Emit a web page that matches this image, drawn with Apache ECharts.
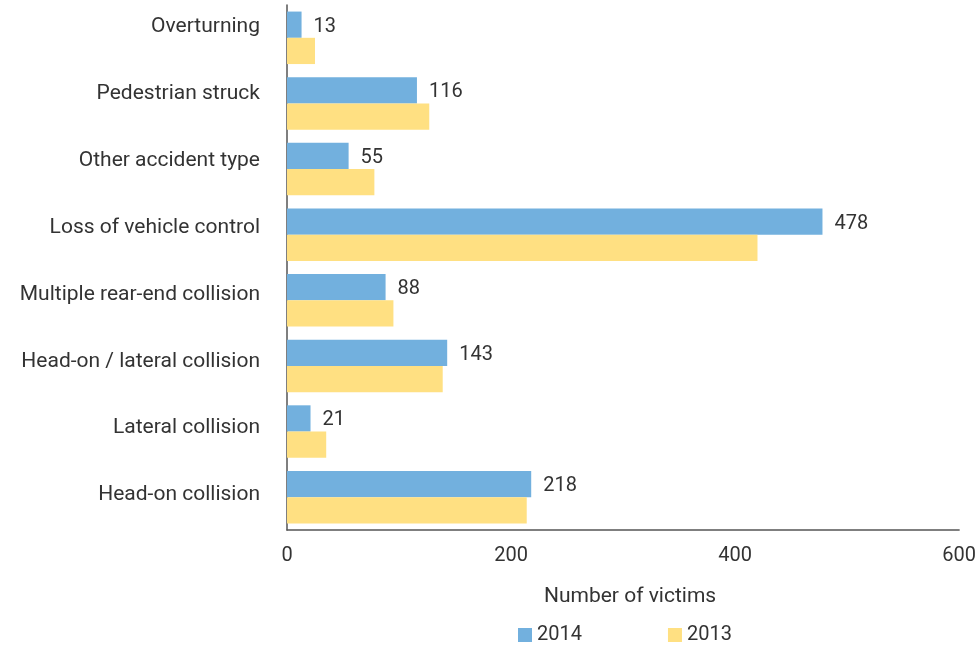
<!DOCTYPE html>
<html>
<head>
<meta charset="utf-8">
<style>
  html, body { margin: 0; padding: 0; background: #ffffff; }
  #chart { width: 979px; height: 648px; }
</style>
<script src="https://cdn.jsdelivr.net/npm/echarts@6/dist/echarts.min.js"></script>
</head>
<body>
<div id="chart"></div>
<script>
// Accident types, listed top to bottom
const categories = [
  'Overturning',
  'Pedestrian struck',
  'Other accident type',
  'Loss of vehicle control',
  'Multiple rear-end collision',
  'Head-on / lateral collision',
  'Lateral collision',
  'Head-on collision'
];

// Number of victims per accident type
const victims2014 = [13, 116, 55, 478, 88, 143, 21, 218];
const victims2013 = [25, 127, 78, 420, 95, 139, 35, 214];

// Value axis ticks
const xTicks = [0, 200, 400, 600];

const FONT = 'Roboto';
const TEXT = '#333333';
const AXIS = '#555555';
const WORD_SIZE = 21;
const NUM_SIZE = 20;

const chart = echarts.init(document.getElementById('chart'), null, { renderer: 'canvas' });

chart.setOption({
  animation: false,
  textStyle: { fontFamily: FONT },
  legend: {
    data: ['2014', '2013'],
    top: 620,
    left: 513,
    itemWidth: 14,
    itemHeight: 14,
    itemGap: 86,
    icon: 'rect',
    textStyle: { fontFamily: FONT, fontSize: NUM_SIZE, color: TEXT }
  },
  grid: [
    { left: 287, right: 19, top: 5, bottom: 118, containLabel: false },
    // label-only grid for the category names
    { left: 287, right: 19, top: 27, height: 468, containLabel: false }
  ],
  xAxis: [
    {
      type: 'value',
      gridIndex: 0,
      min: xTicks[0],
      max: xTicks[xTicks.length - 1],
      interval: xTicks[1] - xTicks[0],
      axisLine: { show: true, lineStyle: { color: AXIS, width: 1.5 } },
      axisTick: { show: false },
      splitLine: { show: false },
      axisLabel: { fontSize: NUM_SIZE, color: TEXT, margin: 16, fontFamily: FONT },
      name: 'Number of victims',
      nameLocation: 'middle',
      nameGap: 56,
      nameTextStyle: { fontSize: WORD_SIZE, color: TEXT, fontFamily: FONT, padding: [0, 0, 0, 14] }
    },
    {
      type: 'value',
      gridIndex: 1,
      show: false
    }
  ],
  yAxis: [
    {
      type: 'category',
      gridIndex: 0,
      data: categories,
      inverse: true,
      axisLine: { show: true, lineStyle: { color: AXIS, width: 1.5 } },
      axisTick: { show: false },
      axisLabel: { show: false }
    },
    {
      type: 'category',
      gridIndex: 1,
      data: categories,
      inverse: true,
      boundaryGap: false,
      axisLine: { show: false },
      axisTick: { show: false },
      splitLine: { show: false },
      axisLabel: { show: true, fontSize: WORD_SIZE, color: TEXT, margin: 27, fontFamily: FONT }
    }
  ],
  series: [
    {
      name: '2014',
      type: 'bar',
      xAxisIndex: 0,
      yAxisIndex: 0,
      data: victims2014,
      barGap: '0%',
      barCategoryGap: '20%',
      itemStyle: { color: '#72B0DE' },
      label: {
        show: true,
        position: 'right',
        distance: 12,
        offset: [0, 2],
        fontSize: NUM_SIZE,
        color: TEXT,
        fontFamily: FONT
      }
    },
    {
      name: '2013',
      type: 'bar',
      xAxisIndex: 0,
      yAxisIndex: 0,
      data: victims2013,
      barGap: '0%',
      barCategoryGap: '20%',
      itemStyle: { color: '#FFE082' }
    }
  ]
});
</script>
</body>
</html>
